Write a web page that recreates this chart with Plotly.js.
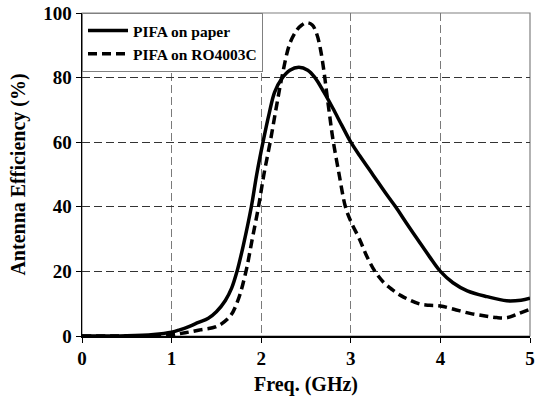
<!DOCTYPE html>
<html>
<head>
<meta charset="utf-8">
<script src="https://cdn.plot.ly/plotly-3.0.1.min.js"></script>
<style>html,body{margin:0;padding:0;background:#fff;}#chart{width:541px;height:398px;}</style>
</head>
<body>
<div id="chart"></div>
<script>
const paperFreq = [0,0.5,0.8,1.0,1.09,1.2,1.3,1.41,1.5,1.6,1.67,1.73,1.8,1.89,1.95,2.02,2.09,2.15,2.23,2.32,2.42,2.52,2.6,2.7,2.8,2.9,3.0,3.1,3.25,3.4,3.5,3.62,3.75,3.88,4.0,4.14,4.3,4.52,4.74,4.9,5.0];
const paperEff  = [0,0.1,0.5,1.2,1.9,3.0,4.2,5.5,7.5,11,14.8,20,28,40,50,60,69,75.5,79.7,82.3,83.2,82.3,80,75.5,70.5,65.2,60,55.8,49.8,43.8,40,35,29.7,24.5,20,16.5,14,12.2,10.9,11.1,11.7];
const roFreq = [0,0.5,0.8,1.0,1.15,1.32,1.5,1.65,1.74,1.83,1.9,1.97,2.03,2.1,2.17,2.23,2.32,2.4,2.45,2.51,2.57,2.62,2.66,2.70,2.73,2.77,2.8,2.87,2.94,3.0,3.1,3.18,3.27,3.37,3.47,3.56,3.66,3.77,3.88,4.0,4.15,4.33,4.5,4.63,4.75,4.85,5.0];
const roEff  = [0,0,0.1,0.4,1.0,1.9,2.9,6,11,20,30,40,50,60,71,80,90.6,94.8,96.2,97,96.3,93.5,89,82,75.5,67,61,50,40,35.5,29.8,24.6,20,16.5,14.2,12.5,11.1,9.9,9.5,9.3,8.3,7,6.2,5.7,5.7,6.7,8.3];
const seriesNames = ["PIFA on paper", "PIFA on RO4003C"];
const xTicks = [0,1,2,3,4,5];
const yTicks = [0,20,40,60,80,100];

const fontFam = "Liberation Serif, Times New Roman, serif";

const traces = [
  {x: paperFreq, y: paperEff, name: seriesNames[0], mode: "lines",
   line: {color: "#000", width: 3.5, shape: "spline", smoothing: 1}},
  {x: roFreq, y: roEff, name: seriesNames[1], mode: "lines",
   line: {color: "#000", width: 3.5, dash: "9px,5px", shape: "spline", smoothing: 1}}
];

const layout = {
  width: 541, height: 398,
  margin: {l: 82, r: 11, t: 13, b: 62},
  paper_bgcolor: "#fff", plot_bgcolor: "#fff",
  font: {family: fontFam, color: "#000", weight: 700},
  showlegend: true,
  legend: {x: 0, y: 1, xanchor: "left", yanchor: "top", bgcolor: "#fff",
           bordercolor: "#808080", borderwidth: 1,
           font: {family: fontFam, size: 15.5, color: "#000", weight: 700},
           tracegroupgap: 0, itemwidth: 40},
  xaxis: {range: [0, 5], tickvals: xTicks, ticktext: xTicks.map(String),
          showgrid: true, gridcolor: "#7a7a7a", gridwidth: 1, griddash: "8px,4px",
          zeroline: false, showline: true, linecolor: "#000", linewidth: 1.5,
          ticks: "outside", ticklen: 5, tickcolor: "#000",
          tickfont: {family: fontFam, size: 19, weight: 700},
          title: {text: "Freq. (GHz)", font: {family: fontFam, size: 20, weight: 700}, standoff: 8}},
  yaxis: {range: [0, 100], tickvals: yTicks, ticktext: yTicks.map(String),
          showgrid: true, gridcolor: "#333", gridwidth: 1, griddash: "8px,4px",
          zeroline: false, showline: true, linecolor: "#000", linewidth: 1.5,
          ticks: "outside", ticklen: 5, tickcolor: "#000",
          tickfont: {family: fontFam, size: 19, weight: 700},
          title: {text: "Antenna Efficiency (%)", font: {family: fontFam, size: 20, weight: 700}, standoff: 12}},
  shapes: [{type: "rect", xref: "paper", yref: "paper", x0: 0, x1: 1, y0: 0, y1: 1,
            line: {color: "#808080", width: 1.2}, layer: "below"}]
};

Plotly.newPlot("chart", traces, layout, {staticPlot: true, displayModeBar: false});
</script>
</body>
</html>
